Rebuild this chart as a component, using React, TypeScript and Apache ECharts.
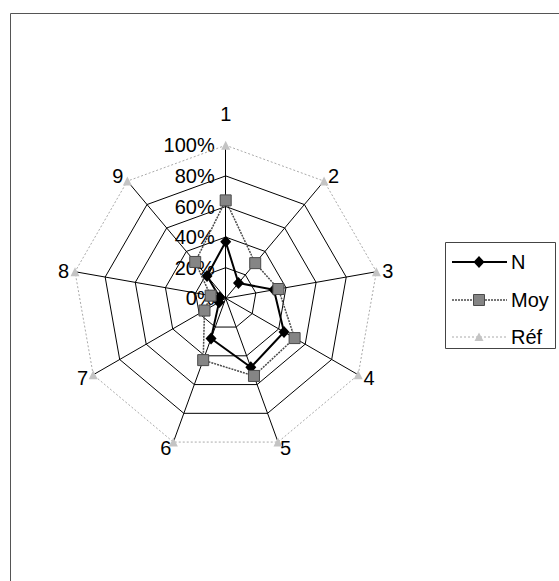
import React, { useEffect, useRef } from "react";
import * as echarts from "echarts";

const categories = ["1", "2", "3", "4", "5", "6", "7", "8", "9"];
const seriesN = [37, 13, 32, 44, 48, 28, 5, 4, 19];
const seriesMoy = [64, 30, 35, 52, 54, 43, 16, 10, 31];
const seriesRef = [100, 100, 100, 100, 100, 100, 100, 100, 100];
const legendNames = ["N", "Moy", "Réf"];
const FONT = "'Liberation Sans', Arial, sans-serif";

// ECharts radar runs counter-clockwise; reorder so the axes go clockwise from the top
const order = [0, 8, 7, 6, 5, 4, 3, 2, 1];
const reorder = (a: any[]) => order.map((i) => a[i]);

export default function App() {
  const ref = useRef<HTMLDivElement>(null);
  useEffect(() => {
    const chart = echarts.init(ref.current!, null, { renderer: "svg" });
    const indicators = reorder(categories).map((name, k) =>
      k === 0
        ? {
            name,
            min: 0,
            max: 100,
            nameGap: 21,
            axisLabel: {
              show: true,
              formatter: (v: number) => v + "%",
              color: "#000",
              fontSize: 20,
              fontFamily: FONT,
              margin: 11,
            },
          }
        : { name, min: 0, max: 100, axisLabel: { show: false } }
    );

    const lx = 452, lx2 = 507, mx = 479, tx = 511;
    const ly = [262, 300, 337];

    chart.setOption({
      animation: false,
      backgroundColor: "#fff",
      radar: {
        center: [225.7, 298.3],
        radius: 153,
        startAngle: 90,
        splitNumber: 5,
        shape: "polygon",
        indicator: indicators,
        axisName: {
          color: "#000",
          fontSize: 20,
          fontFamily: FONT,
        },
        nameGap: 6,
        axisLine: { lineStyle: { color: "#000", width: 1 } },
        axisTick: { show: false },
        axisLabel: { show: false },
        splitLine: {
          lineStyle: {
            color: ["#000", "#000", "#000", "#000", "#000", "rgba(0,0,0,0)"],
            width: 1,
          },
        },
        splitArea: { show: false },
      },
      series: [
        {
          type: "radar",
          z: 3,
          data: [
            {
              name: legendNames[0],
              value: reorder(seriesN),
              symbol: "diamond",
              symbolSize: [11, 12],
              itemStyle: { color: "#000" },
              lineStyle: { color: "#000", width: 2 },
            },
          ],
        },
        {
          type: "radar",
          z: 4,
          data: [
            {
              name: legendNames[1],
              value: reorder(seriesMoy),
              symbol: "rect",
              symbolSize: 11,
              itemStyle: { color: "#858585", borderColor: "#4a4a4a", borderWidth: 1 },
              lineStyle: { color: "#4a4a4a", width: 1.5, type: [2, 1] },
            },
          ],
        },
        {
          type: "radar",
          z: 5,
          data: [
            {
              name: legendNames[2],
              value: reorder(seriesRef),
              symbol: "triangle",
              symbolSize: 9,
              itemStyle: { color: "#c4c4c4" },
              lineStyle: { color: "#aaa", width: 1, type: [2, 2] },
            },
          ],
        },
      ],
      graphic: [
        {
          type: "rect",
          shape: { x: 10.5, y: 13.5, width: 600, height: 600 },
          style: { fill: "none", stroke: "#555", lineWidth: 1 },
          silent: true,
        },
        {
          type: "rect",
          shape: { x: 445.5, y: 242.5, width: 110, height: 106 },
          style: { fill: "#fff", stroke: "#444", lineWidth: 1 },
          z: 10,
        },
        {
          type: "line",
          shape: { x1: lx, y1: ly[0], x2: lx2, y2: ly[0] },
          style: { stroke: "#000", lineWidth: 2 },
          z: 11,
        },
        {
          type: "polygon",
          shape: { points: [[mx - 5.5, ly[0]], [mx, ly[0] - 6], [mx + 5.5, ly[0]], [mx, ly[0] + 6]] },
          style: { fill: "#000" },
          z: 12,
        },
        {
          type: "line",
          shape: { x1: lx, y1: ly[1], x2: lx2, y2: ly[1] },
          style: { stroke: "#4a4a4a", lineWidth: 1.5, lineDash: [2, 1] },
          z: 11,
        },
        {
          type: "rect",
          shape: { x: mx - 5.5, y: ly[1] - 5.5, width: 11, height: 11 },
          style: { fill: "#858585", stroke: "#4a4a4a", lineWidth: 1 },
          z: 12,
        },
        {
          type: "line",
          shape: { x1: lx, y1: ly[2], x2: lx2, y2: ly[2] },
          style: { stroke: "#aaa", lineWidth: 1, lineDash: [2, 2] },
          z: 11,
        },
        {
          type: "polygon",
          shape: { points: [[mx - 4.5, ly[2] + 4], [mx, ly[2] - 4.5], [mx + 4.5, ly[2] + 4]] },
          style: { fill: "#c4c4c4" },
          z: 12,
        },
        ...legendNames.map((n, i) => ({
          type: "text",
          x: tx,
          y: ly[i],
          style: {
            text: n,
            fill: "#000",
            font: `20px ${FONT}`,
            textVerticalAlign: "middle",
            verticalAlign: "middle",
          },
          z: 12,
        })),
      ],
    });
    return () => chart.dispose();
  }, []);
  return (
    <div
      ref={ref}
      style={{ position: "fixed", left: 0, top: 0, width: 559, height: 581 }}
    />
  );
}
